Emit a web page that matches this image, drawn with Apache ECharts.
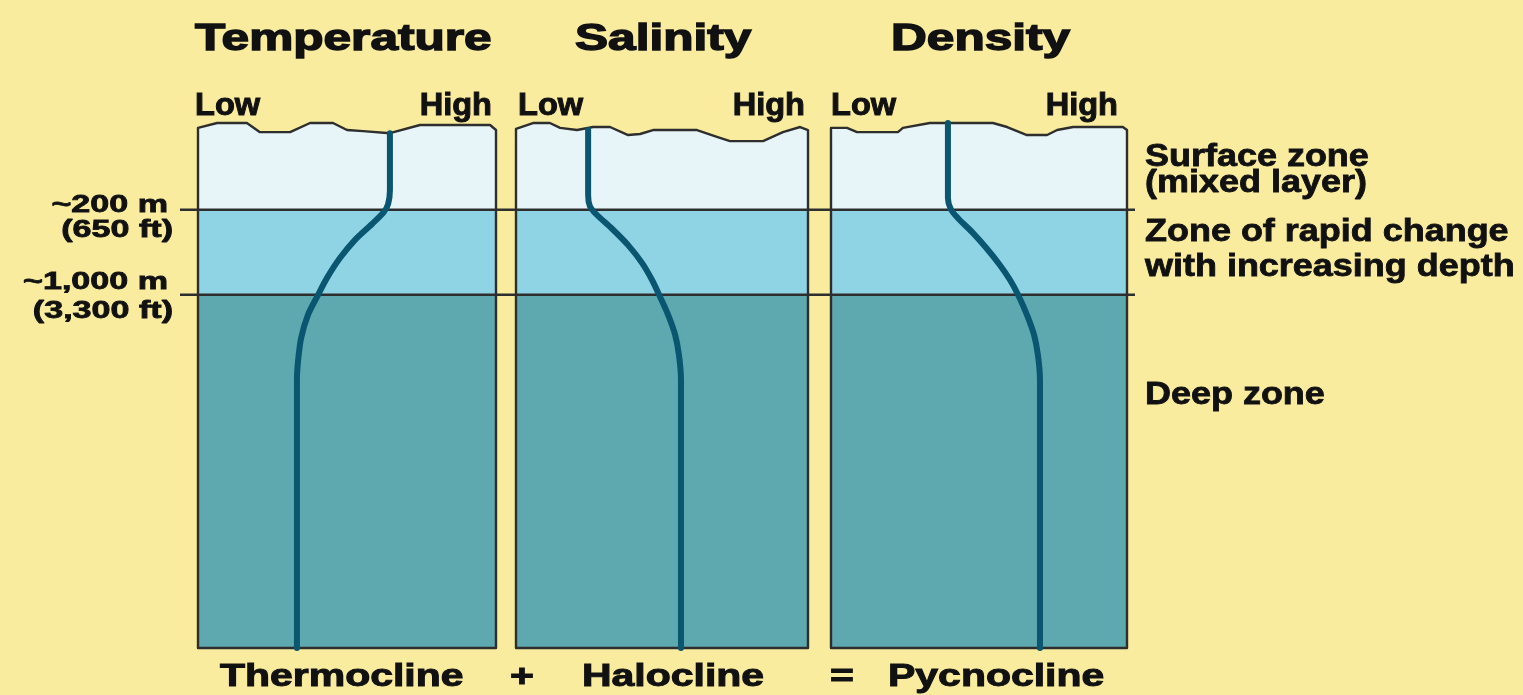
<!DOCTYPE html>
<html>
<head>
<meta charset="utf-8">
<script src="https://cdn.jsdelivr.net/npm/echarts@6/dist/echarts.min.js"></script>
<style>
html,body{margin:0;padding:0;background:#F9EC9F;}
#chart{width:1523px;height:695px;}
</style>
</head>
<body>
<div id="chart"></div>
<script>
// ---- data (x: 0 = Low, 100 = High; y: relative depth, 0 = top of diagram, 100 = bottom) ----
const panelTitles = ['Temperature', 'Salinity', 'Density'];
const clineNames = ['Thermocline', 'Halocline', 'Pycnocline'];
const operators = ['+', '='];
const scaleLabels = ['Low', 'High'];
const depthLabels = [['~200 m', '(650 ft)'], ['~1,000 m', '(3,300 ft)']];
const zoneLabels = [['Surface zone', '(mixed layer)'], ['Zone of rapid change', 'with increasing depth'], ['Deep zone']];
const zoneBounds = [17.0, 33.1];

const waveTemp = [[0,1.5],[6.4,0.57],[16.4,0.57],[20.8,2.3],[30.9,2.3],[37.6,0.57],[45.3,0.57],[50,1.9],[55.4,2.1],[64.4,2.5],[74.5,0.95],[98,0.95],[100,1.9]];
const waveSal = [[0,1.7],[5.8,0.57],[11.6,0.57],[15.1,1.5],[20.9,1.9],[26.4,1.33],[32.2,1.33],[38.4,2.85],[42.5,2.65],[46.9,1.9],[62,1.9],[68.8,3.2],[73.3,4.0],[84.6,4.0],[91.4,2.3],[97.3,1.33],[100,1.9]];
const waveDen = [[0,1.5],[5.4,1.5],[8.8,2.3],[22.6,2.3],[24.3,1.5],[33.4,0.57],[54.7,0.57],[59.5,1.33],[66.2,2.85],[73,2.85],[76.4,1.9],[81.8,1.33],[98.6,1.33],[100,1.9]];

const temperature = [[64.4,2.5],[64.4,13.3],[63.8,15.9],[62.4,17.4],[58.4,19.7],[52.7,22.7],[47.7,26.1],[43.3,29.9],[40.3,33.1],[36.9,36.9],[34.6,41.3],[33.6,45.5],[33.2,49.2],[33.2,100]];
const salinity = [[24.7,1.9],[24.7,14.2],[25.3,16.3],[27.4,17.8],[32.9,20.6],[38.4,23.7],[43.2,27.1],[46.6,30.3],[49,33.1],[52.1,36.9],[54.5,40.7],[55.8,44.5],[56.5,49.2],[56.5,100]];
const density = [[39.5,0.57],[39.5,14.8],[40.5,16.9],[42.9,18.6],[47.6,21.2],[52.4,24.2],[57.1,27.5],[60.5,30.3],[63.2,33.1],[66.2,36.9],[68.6,40.7],[69.9,44.5],[70.6,49.2],[70.6,100]];

// ---- styling / layout ----
const COL = {surface:'#E7F5F8', rapid:'#8FD4E4', deep:'#5EA8B0', line:'#0A5570', border:'#2E2E2E', text:'#111111'};
const FONT = '"Liberation Sans", Arial, sans-serif';
const panels = [
  {left:198, width:298, wave:waveTemp, profile:temperature},
  {left:516, width:292, wave:waveSal, profile:salinity},
  {left:831, width:296, wave:waveDen, profile:density}
];
const GTOP = 120, GH = 528;

const grids = [], xAxes = [], yAxes = [], series = [];
panels.forEach((p, i) => {
  grids.push({left:p.left, width:p.width, top:GTOP, height:GH});
  xAxes.push({type:'value', gridIndex:i, min:0, max:100, show:false});
  yAxes.push({type:'value', gridIndex:i, min:0, max:100, inverse:true, show:false});
  const wave = p.wave;
  series.push({
    type:'custom', xAxisIndex:i, yAxisIndex:i, z:1, silent:true,
    data:[[0,0]],
    renderItem:function(params, api){
      const w = wave.map(pt => api.coord(pt));
      const b1l = api.coord([0, zoneBounds[0]]), b1r = api.coord([100, zoneBounds[0]]);
      const b2l = api.coord([0, zoneBounds[1]]), b2r = api.coord([100, zoneBounds[1]]);
      const bl = api.coord([0, 100]), br = api.coord([100, 100]);
      return {type:'group', children:[
        {type:'polygon', shape:{points:w.concat([b1r, b1l])}, style:{fill:COL.surface}},
        {type:'rect', shape:{x:b1l[0], y:b1l[1], width:b1r[0]-b1l[0], height:b2l[1]-b1l[1]}, style:{fill:COL.rapid}},
        {type:'rect', shape:{x:b2l[0], y:b2l[1], width:b2r[0]-b2l[0], height:bl[1]-b2l[1]}, style:{fill:COL.deep}},
        {type:'polygon', shape:{points:[bl].concat(w).concat([br]), smooth:0}, style:{fill:null, stroke:COL.border, lineWidth:2.4, lineJoin:'round'}}
      ]};
    }
  });
  series.push({
    type:'line', xAxisIndex:i, yAxisIndex:i, z:4, data:p.profile,
    showSymbol:false, symbol:'none', smooth:0.3, silent:true,
    lineStyle:{color:COL.line, width:6, cap:'round', join:'round'}
  });
});
// full-width grid for the depth boundary lines
grids.push({left:180, right:1523-1135, top:GTOP, height:GH});
xAxes.push({type:'value', gridIndex:3, min:0, max:100, show:false});
yAxes.push({type:'value', gridIndex:3, min:0, max:100, inverse:true, show:false});
zoneBounds.forEach(b => {
  series.push({type:'line', xAxisIndex:3, yAxisIndex:3, z:3, silent:true, showSymbol:false, symbol:'none',
    data:[[0,b],[100,b]], lineStyle:{color:COL.border, width:2.4}});
});

// ---- text ----
function txt(text, x, baseline, size, sx, align, heavy){
  return {type:'text', x:x, y:baseline - 0.347*size, scaleX:sx, silent:true, z:10,
    style:{text:text, font:'bold ' + size + 'px ' + FONT, fill:COL.text,
      stroke:COL.text, lineWidth:heavy||0.8,
      textAlign:align||'left', textVerticalAlign:'middle', verticalAlign:'middle'}};
}
const g = [];
const titleX = [195, 575, 891];
panelTitles.forEach((t, i) => g.push(txt(t, titleX[i], 53, 37, 1.34, 'left', 1.4)));
const lowX = [195, 518, 831], highX = [492, 805, 1118];
panels.forEach((p, i) => {
  g.push(txt(scaleLabels[0], lowX[i], 117, 31, 1.05, 'left', 1.0));
  g.push(txt(scaleLabels[1], highX[i], 117, 31, 1.05, 'right', 1.0));
});
const clineX = [220, 582, 888];
clineNames.forEach((t, i) => g.push(txt(t, clineX[i], 688, 32, 1.28, 'left', 1.0)));
const opX = [522, 842];
operators.forEach((t, i) => g.push(txt(t, opX[i], 688, 32, 1.28, 'center', 1.0)));
const depthBase = [[214, 239], [291, 320]];
depthLabels.forEach((pair, i) => {
  g.push(txt(pair[0], 168, depthBase[i][0], 24, 1.42, 'right', 0.8));
  g.push(txt(pair[1], 173, depthBase[i][1], 24, 1.42, 'right', 0.8));
});
const zoneBase = [[168, 194], [243, 278], [406]];
zoneLabels.forEach((lines, i) => lines.forEach((t, j) => g.push(txt(t, 1145, zoneBase[i][j], 31, 1.16, 'left', 0.8))));

const chart = echarts.init(document.getElementById('chart'), null, {renderer:'canvas'});
chart.setOption({
  backgroundColor:'#F9EC9F',
  animation:false,
  grid:grids, xAxis:xAxes, yAxis:yAxes, series:series,
  graphic:g
});
</script>
</body>
</html>
